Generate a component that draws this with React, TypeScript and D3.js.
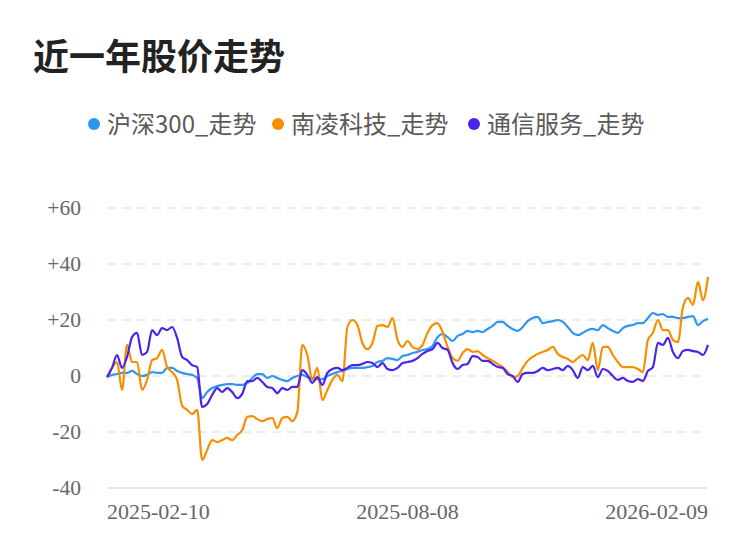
import React from "react";
import * as d3 from "d3";

const W = 750;
const H = 558;

const title = "近一年股价走势";
const seriesNames = ["沪深300_走势", "南凌科技_走势", "通信服务_走势"];
const seriesColors = ["#2f95f3", "#f88d00", "#4a23ee"];
const yTicks = [-40, -20, 0, 20, 40, 60];
const xLabels = ["2025-02-10", "2025-08-08", "2026-02-09"];

// sampled roughly every second trading day, 2025-02-10 .. 2026-02-09
const hs300 = [
  -0.4, 0.4, 0.7, 1.1, 1.1, 1.8, 0.7, 0, 0.4, 1.4,
  1.1, 1.1, 2.9, 2.9, 1.8, 1.1, 0.7, 0.4, -0.7, -7.9,
  -5.7, -4.3, -3.6, -3.2, -2.9, -2.9, -3.2, -3.2, -2.5, -0.7,
  0.7, 0.7, -0.7, 0, -0.7, -1.4, -1.8, -0.7, 0, 0.4,
  -0.4, -0.7, -1.1, -1.1, 0, 0.7, 1.4, 1.8, 2.5, 2.9,
  2.9, 2.9, 3.2, 3.6, 5.0, 5.4, 6.4, 6.1, 5.7, 7.1,
  7.5, 8.2, 8.6, 9.3, 9.6, 10.7, 13.9, 15.0, 13.9, 12.5,
  14.3, 15.0, 16.1, 15.7, 16.1, 15.7, 16.8, 17.9, 19.3, 19.3,
  17.9, 16.8, 16.1, 17.5, 19.6, 20.7, 21.1, 18.9, 19.3, 19.6,
  20.0, 19.3, 17.5, 15.4, 14.6, 15.4, 16.4, 16.8, 16.4, 18.2,
  17.1, 16.1, 15.4, 17.1, 17.9, 18.2, 18.9, 18.9, 20.7, 22.5,
  21.8, 22.1, 21.1, 21.1, 20.7, 20.7, 21.1, 21.4, 18.2, 19.6,
  20.4,
];

const nanling = [
  -0.4, 2.9, 5.0, -5.0, 11.1, 5.0, 5.0, -5.0, -1.4, 5.7,
  6.4, 9.3, 3.2, 1.4, -1.4, -10.7, -12.1, -13.6, -12.1, -30.0,
  -26.4, -22.9, -23.6, -22.9, -22.1, -22.9, -21.1, -19.3, -14.6, -14.3,
  -15.4, -16.1, -15.4, -15.0, -18.6, -15.0, -14.6, -16.1, -12.9, 11.1,
  7.5, -1.4, 2.9, -8.6, -5.0, -1.4, 0.4, -1.8, 17.5, 20.0,
  18.2, 11.8, 9.6, 11.8, 17.9, 18.2, 17.5, 20.7, 12.9, 10.4,
  12.5, 10.4, 9.6, 11.1, 15.4, 18.2, 18.9, 15.7, 10.4, 6.4,
  5.4, 8.2, 9.6, 8.6, 8.9, 7.5, 6.4, 5.4, 4.3, 3.2,
  1.4, -0.4, 0, 2.9, 5.4, 6.8, 7.9, 8.6, 9.3, 10.4,
  7.9, 6.8, 6.1, 5.0, 6.4, 7.5, 5.7, 11.8, 2.1, 10.4,
  10.4, 7.5, 5.0, 3.2, 3.2, 3.2, 2.5, 1.4, 12.9, 15.4,
  20.0, 16.4, 16.4, 12.9, 12.1, 24.6, 27.9, 25.4, 33.6, 27.1,
  35.4,
];

const tongxin = [
  -0.4, 2.9, 7.5, 2.9, 6.8, 13.9, 15.4, 7.5, 8.6, 16.4,
  14.6, 17.1, 16.4, 17.5, 13.6, 6.8, 5.7, 3.9, 3.2, -11.1,
  -10.0, -6.8, -4.3, -5.7, -4.3, -5.7, -7.9, -6.4, -1.8, -1.8,
  -0.7, -2.1, -3.9, -4.3, -6.1, -4.3, -5.0, -3.9, -3.9, 2.1,
  0.4, -2.5, -0.4, -3.2, 1.1, 2.5, 2.9, 2.1, 2.9, 3.9,
  3.9, 4.3, 5.0, 4.6, 3.2, 4.6, 2.5, 2.1, 2.9, 4.6,
  5.0, 5.4, 6.4, 7.9, 8.9, 9.6, 11.8, 10.0, 9.3, 4.6,
  2.5, 3.9, 4.3, 7.1, 6.8, 5.4, 5.4, 4.3, 3.2, 2.9,
  0.7, 0, -2.1, 0.7, 1.1, 1.1, 1.8, 2.9, 2.1, 2.5,
  2.9, 2.1, 3.6, 2.1, -0.7, 3.2, 2.1, 3.6, -0.4, 2.5,
  1.8, 0, -1.4, -0.7, -1.8, -2.1, -1.1, -1.8, 1.8, 3.2,
  11.8, 11.1, 13.6, 8.6, 6.4, 8.9, 9.3, 8.9, 8.6, 7.5,
  11.1,
];

const allSeries = [hs300, nanling, tongxin];

export default function App() {
  const n = hs300.length;
  const x = d3.scaleLinear().domain([0, n - 1]).range([107, 708]);
  const y = d3.scaleLinear().domain([-40, 60]).range([488, 208]);
  const line = d3
    .line<number>()
    .x((_, i) => x(i))
    .y((d) => y(d))
    .curve(d3.curveMonotoneX);

  const fmt = (v: number) => (v > 0 ? "+" + v : String(v));
  const legendX = [94, 278, 474];
  const xLabelPos = [0, Math.round((n - 1) / 2), n - 1];
  const anchors = ["start", "middle", "end"];

  return (
    <svg
      width={W}
      height={H}
      style={{ position: "absolute", left: 0, top: 0, background: "#fff" }}
    >
      <text
        x={33}
        y={70}
        fontSize={36}
        fontWeight="bold"
        fill="#222"
        fontFamily="'Noto Sans CJK SC', sans-serif"
      >
        {title}
      </text>
      {seriesNames.map((s, i) => (
        <g key={s}>
          <circle cx={legendX[i]} cy={124} r={6} fill={seriesColors[i]} />
          <text
            x={legendX[i] + 13}
            y={133}
            fontSize={24}
            fill="#5a5a5a"
            fontFamily="'Noto Sans CJK SC', sans-serif"
          >
            {s}
          </text>
        </g>
      ))}
      {yTicks.map((t) => (
        <g key={t}>
          <line
            x1={107}
            x2={707}
            y1={y(t)}
            y2={y(t)}
            stroke={t === -40 ? "#e6e6e6" : "#ececec"}
            strokeWidth={2}
            strokeDasharray={t === -40 ? undefined : "9 6"}
          />
          <text
            x={81}
            y={y(t) + 7}
            textAnchor="end"
            fontSize={21.5}
            fill="#666"
            fontFamily="'Liberation Serif', serif"
          >
            {fmt(t)}
          </text>
        </g>
      ))}
      {xLabels.map((l, i) => (
        <text
          key={l}
          x={x(xLabelPos[i])}
          y={519}
          textAnchor={anchors[i]}
          fontSize={22}
          fill="#666"
          fontFamily="'Liberation Serif', serif"
        >
          {l}
        </text>
      ))}
      {allSeries.map((s, i) => (
        <path
          key={i}
          d={line(s) || ""}
          fill="none"
          stroke={seriesColors[i]}
          strokeWidth={2.2}
          strokeLinejoin="round"
        />
      ))}
    </svg>
  );
}
